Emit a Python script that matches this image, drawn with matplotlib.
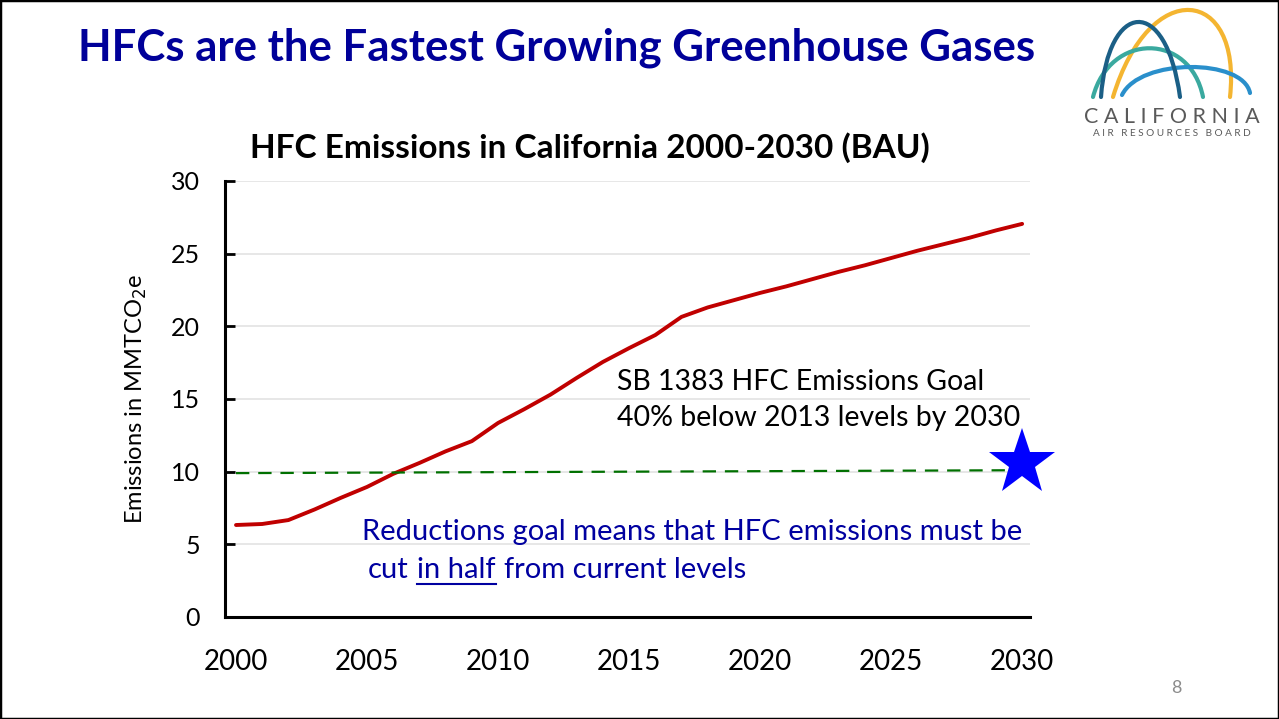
import numpy as np
import matplotlib
matplotlib.use("Agg")
import matplotlib.pyplot as plt
from matplotlib.path import Path
from matplotlib.patches import PathPatch, Rectangle
from matplotlib.lines import Line2D

plt.rcParams['font.family'] = ['Lato', 'DejaVu Sans']

# data
years = list(range(2000, 2031))
hfc_bau = [6.33, 6.4, 6.67, 7.4, 8.2, 8.95, 9.85, 10.6, 11.4, 12.1,
           13.35, 14.3, 15.3, 16.45, 17.55, 18.5, 19.4, 20.65, 21.3, 21.8,
           22.3, 22.75, 23.25, 23.75, 24.2, 24.7, 25.2, 25.65, 26.1, 26.6, 27.05]
goal_years = [2000, 2030]
goal_line = [9.9, 10.1]
goal_star_year = 2030
goal_star_value = 10.6
x_ticks = [2000, 2005, 2010, 2015, 2020, 2025, 2030]
y_ticks = [0, 5, 10, 15, 20, 25, 30]

W, H = 1279, 719
fig = plt.figure(figsize=(W / 100, H / 100), dpi=100)
fig.patch.set_facecolor("white")

# slide border
fig.add_artist(Rectangle((0, 0), 1, 1, transform=fig.transFigure, fill=False,
                         edgecolor="black", lw=2.5))

# slide title
fig.text(557 / W, 1 - 48 / H, "HFCs are the Fastest Growing Greenhouse Gases",
         color="#000099", fontsize=31.5, fontweight="bold", ha="center", va="center")

# chart
ax = fig.add_axes([225 / W, 1 - 617 / H, (1030 - 225) / W, (617 - 181) / H])
ax.plot(years, hfc_bau, color="#C00000", lw=2.8, solid_capstyle="round", zorder=3)
ax.plot(goal_years, goal_line, color="#007000", lw=1.6, dashes=(6, 4), zorder=3)
ax.plot([goal_star_year], [goal_star_value], marker="*", color="#0000FF",
        markersize=50, markeredgewidth=0, clip_on=False, zorder=4)

ax.set_xlim(1999.58, 2030.3)
ax.set_ylim(0, 30)
ax.set_xticks(x_ticks)
ax.set_yticks(y_ticks)
ax.grid(axis="y", color="#e3e3e3", lw=1.2)
ax.set_axisbelow(True)
for s in ["top", "right"]:
    ax.spines[s].set_visible(False)
for s in ["left", "bottom"]:
    ax.spines[s].set_linewidth(2.2)
ax.tick_params(axis="y", direction="in", length=7, width=2, labelsize=18, pad=18)
ax.tick_params(axis="x", length=0, labelsize=20, pad=23)
ax.set_ylabel("Emissions in MMTCO$_2$e", fontsize=17)
ax.yaxis.set_label_coords(-0.095, 0.5)

fig.text(590 / W, 1 - 148 / H, "HFC Emissions in California 2000-2030 (BAU)",
         fontsize=24, fontweight="bold", ha="center", va="center")

# annotations
fig.text(617 / W, 1 - 382 / H, "SB 1383 HFC Emissions Goal", fontsize=20.5,
         ha="left", va="center")
fig.text(617 / W, 1 - 418 / H, "40% below 2013 levels by 2030", fontsize=20.5,
         ha="left", va="center")

blue = "#0000A0"
fig.text(362 / W, 1 - 532 / H, "Reductions goal means that HFC emissions must be",
         fontsize=21, color=blue, ha="left", va="center")
t1 = fig.text(368 / W, 1 - 578 / H, "cut", fontsize=21, color=blue,
              ha="left", va="baseline")
t2 = ax.annotate("in half", xy=(1, 0), xycoords=t1, xytext=(6, 0),
                 textcoords="offset points", fontsize=21, color=blue,
                 ha="left", va="bottom", annotation_clip=False)
t3 = ax.annotate("from current levels", xy=(1, 0), xycoords=t2, xytext=(6, 0),
                 textcoords="offset points", fontsize=21, color=blue,
                 ha="left", va="bottom", annotation_clip=False)

# page number
fig.text(1176 / W, 1 - 688 / H, "8", fontsize=13, color="#8c8c8c",
         ha="center", va="center")

# logo
lax = fig.add_axes([1080 / W, 1 - 145 / H, 185 / W, 142 / H])
lax.set_xlim(1080, 1265)
lax.set_ylim(145, 3)
lax.axis("off")
arcs = [
    ("#f4b531", [(1113, 97), (1150, -25), (1242, -13), (1230, 97)]),
    ("#3aa99f", [(1093, 97), (1110, 32), (1190, 32), (1203, 97)]),
    ("#2a8fcb", [(1122, 95), (1140, 58), (1243, 58), (1250, 93)]),
    ("#1b5f86", [(1101, 97), (1108, 0), (1166, -6), (1180, 97)]),
]
codes = [Path.MOVETO, Path.CURVE4, Path.CURVE4, Path.CURVE4]
for col, pts in arcs:
    lax.add_patch(PathPatch(Path(pts, codes), fill=False, edgecolor=col,
                            lw=3, capstyle="round"))
lax.text(1172, 117, "C A L I F O R N I A", fontsize=15.5, color="#5a5a5a",
         ha="center", va="center")
lax.text(1172, 133, "A I R   R E S O U R C E S   B O A R D", fontsize=7.2,
         color="#5a5a5a", ha="center", va="center")

# underline "in half"
fig.canvas.draw()
bb = t2.get_window_extent()
y_ul = bb.y0 - 1
fig.add_artist(Line2D([bb.x0 / W, bb.x1 / W], [y_ul / H, y_ul / H],
                      transform=fig.transFigure, color=blue, lw=1.5))

fig.savefig("out.png", dpi=100)
